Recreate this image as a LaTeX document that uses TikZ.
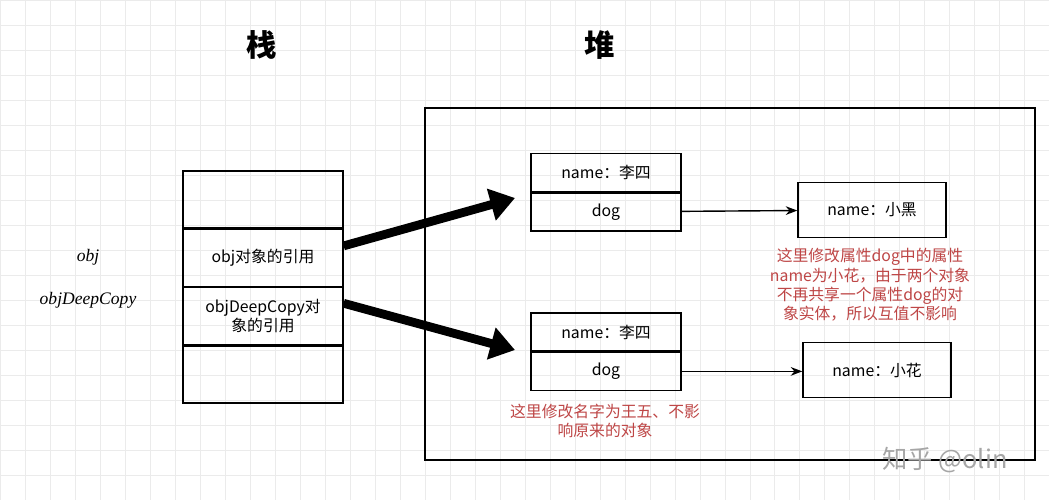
\documentclass[tikz,border=0pt]{standalone}
\usepackage{fontspec}
\setmainfont{Liberation Serif}
\newfontfamily\cjk{Noto Sans CJK SC}
\usetikzlibrary{arrows.meta,positioning}
\definecolor{note}{RGB}{190,70,70}
\tikzset{
    >=Stealth,
    cell/.style={draw,thick,minimum width=3cm,minimum height=0.76cm,font=\cjk\small,inner sep=1pt},
    stackcell/.style={draw,thick,minimum width=3.2cm,minimum height=1.14cm,align=center,font=\cjk\small,inner sep=1pt},
    leaf/.style={draw,thick,minimum width=2.96cm,minimum height=1.1cm,font=\cjk\small},
    remark/.style={text=note,align=center,font=\cjk\small},
    ref/.style={line width=5pt,-{Triangle[length=14pt,width=18pt]}},
    link/.style={thick,->}
}
\begin{document}
\begin{tikzpicture}[x=0.02cm,y=-0.02cm]
    \useasboundingbox (0,0) rectangle (1049,500);
    \fill[white] (0,0) rectangle (1049,500);
    \draw[black!8] (0,0) grid[step=0.5cm] (1049,500);
    % titles
    \node[font=\cjk\bfseries\LARGE] (stk) at (262,45) {栈};
    \node[font=\cjk\bfseries\LARGE] (hp) at (600,45) {堆};
    \draw[thick] (425,108) rectangle (1035,460);
    % stack
    \node[stackcell] (s1) at (263,199.5) {};
    \node[stackcell,below=0pt of s1] (s2) {obj对象的引用};
    \node[stackcell,below=0pt of s2] (s3) {objDeepCopy对\\象的引用};
    \node[stackcell,below=0pt of s3] (s4) {};
    \node[font=\itshape] (lobj) at (88,257) {obj};
    \node[font=\itshape] (lcopy) at (88,300) {objDeepCopy};
    % heap objects
    \node[cell] (a1) at (606,172.5) {name：李四};
    \node[cell,below=0pt of a1] (a2) {dog};
    \node[leaf] (dog1) at (872,210) {name：小黑};
    \node[cell] (b1) at (606,332) {name：李四};
    \node[cell,below=0pt of b1] (b2) {dog};
    \node[leaf] (dog2) at (877,370) {name：小花};
    \draw[link] (a2) -- (dog1);
    \draw[link] (b2) -- (b2 -| dog2.west);
    \draw[ref] (s2.east) ++(0,-12) coordinate (r1) -- (515,198);
    \draw[ref] (s3.east) ++(0,-13) coordinate (r2) -- (515,350);
    % notes
    \node[remark] (n1) at (870,285) {这里修改属性dog中的属性\\name为小花，由于两个对象\\不再共享一个属性dog的对\\象实体，所以互值不影响};
    \node[remark] (n2) at (605,421) {这里修改名字为王五、不影\\响原来的对象};
    \node[text=black!35,font=\cjk\Large] (wm) at (945,460) {知乎 @olin};
\end{tikzpicture}
\end{document}
